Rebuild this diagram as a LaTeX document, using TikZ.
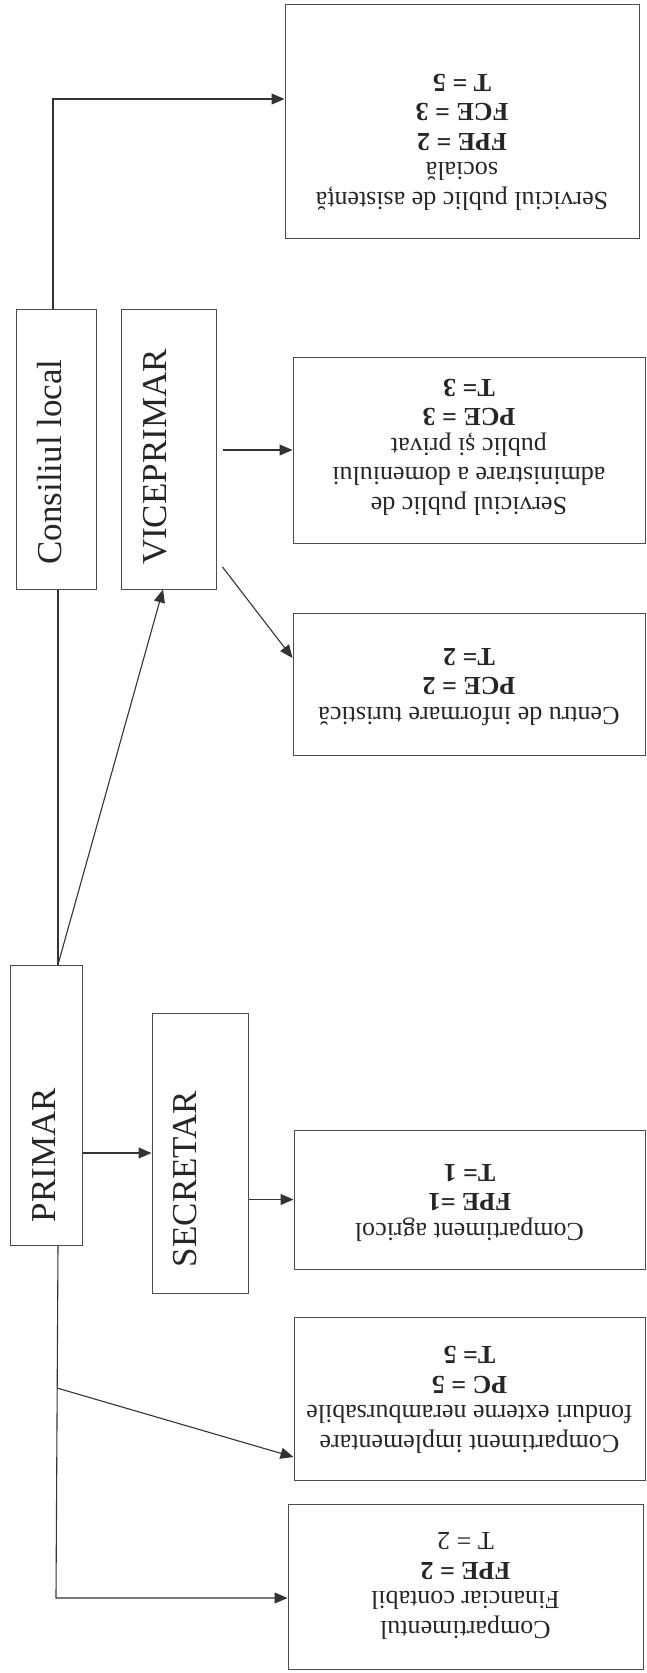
\documentclass[tikz,border=0pt]{standalone}
\usepackage{fontspec}
\setmainfont{Liberation Serif}
\usetikzlibrary{arrows.meta}
\begin{document}
\begin{tikzpicture}[x=1pt,y=-1pt,
  box/.style={draw=black!70, line width=1pt, inner sep=0pt, rectangle},
  lbl/.style={inner sep=0pt, text=black!85, font=\fontsize{35}{40}\selectfont, rotate=90},
  rtxt/.style={inner sep=0pt, text=black!85, align=center, font=\fontsize{26}{29.5}\selectfont, rotate=180},
  conn/.style={draw=black!80, line width=1.1pt},
  arr/.style={conn, -{Triangle[length=13pt,width=11pt]}}]
\useasboundingbox (0,0) rectangle (647,1673);

% left column
\node[box, minimum width=80pt, minimum height=280pt] (cons) at (56,449) {};
\node[lbl] (consT) at (50,462) {Consiliul local};
\node[box, minimum width=95pt, minimum height=280pt] (vice) at (168.5,449) {};
\node[lbl] (viceT) at (155,457) {VICEPRIMAR};
\node[box, minimum width=72pt, minimum height=280pt] (primar) at (46,1105) {};
\node[lbl] (primarT) at (43.5,1155) {PRIMAR};
\node[box, minimum width=96pt, minimum height=280pt] (secr) at (200,1153) {};
\node[lbl] (secrT) at (185,1179) {SECRETAR};

% right column
\node[box, minimum width=354pt, minimum height=234pt] (b1) at (462,121) {};
\node[rtxt] (b1T) at (462,142) {Serviciul public de asistență\\socială\\\textbf{FPE = 2}\\\textbf{FCE = 3}\\\textbf{T = 5}};
\node[box, minimum width=352pt, minimum height=186pt] (b2) at (469,450) {};
\node[rtxt] (b2T) at (469,447) {Serviciul public de\\administrare a domeniului\\public și privat\\\textbf{PCE = 3}\\\textbf{T= 3}};
\node[box, minimum width=352pt, minimum height=142pt] (b3) at (469,684) {};
\node[rtxt] (b3T) at (469,687) {Centru de informare turistică\\\textbf{PCE = 2}\\\textbf{T= 2}};
\node[box, minimum width=351pt, minimum height=139pt] (b4) at (469.5,1199.5) {};
\node[rtxt] (b4T) at (469.5,1203) {Compartiment agricol\\\textbf{FPE =1}\\\textbf{T= 1}};
\node[box, minimum width=351pt, minimum height=163pt] (b5) at (469.5,1398.5) {};
\node[rtxt] (b5T) at (469.5,1400) {Compartiment implementare\\fonduri externe nerambursabile\\\textbf{PC = 5}\\\textbf{T= 5}};
\node[box, minimum width=355pt, minimum height=165pt] (b6) at (465.5,1586.5) {};
\node[rtxt] (b6T) at (465.5,1586) {Compartimentul\\Financiar contabil\\\textbf{FPE = 2}\\T = 2};

% connectors
\coordinate (k1) at (53,99);
\coordinate (k2) at (58,0);
\coordinate (k3) at (163,0);
\coordinate (k6) at (56,1598);
\coordinate (k7) at (57,1388);
\draw[arr] (cons.north -| k1) -- (k1) -- (k1 -| b1.west);
\draw[conn] (cons.south -| k2) -- (primar.north -| k2);
\draw[arr] (primar.north -| k2) -- (vice.south -| k3);
\draw[arr, shorten <=6pt] (b2.west -| vice.east) -- (b2.west);
\draw[arr] ([xshift=6pt,yshift=-118pt]vice.east) -- ([yshift=26pt]b3.west);
\draw[arr] (secr.west -| primar.east) -- (secr.west);
\draw[arr] (b4.west -| secr.east) -- (b4.west);
\draw[arr] (primar.south -| k2) -- (k6) -- (k6 -| b6.west);
\draw[arr] (k7) -- ([yshift=-58.5pt]b5.west);
\end{tikzpicture}
\end{document}
